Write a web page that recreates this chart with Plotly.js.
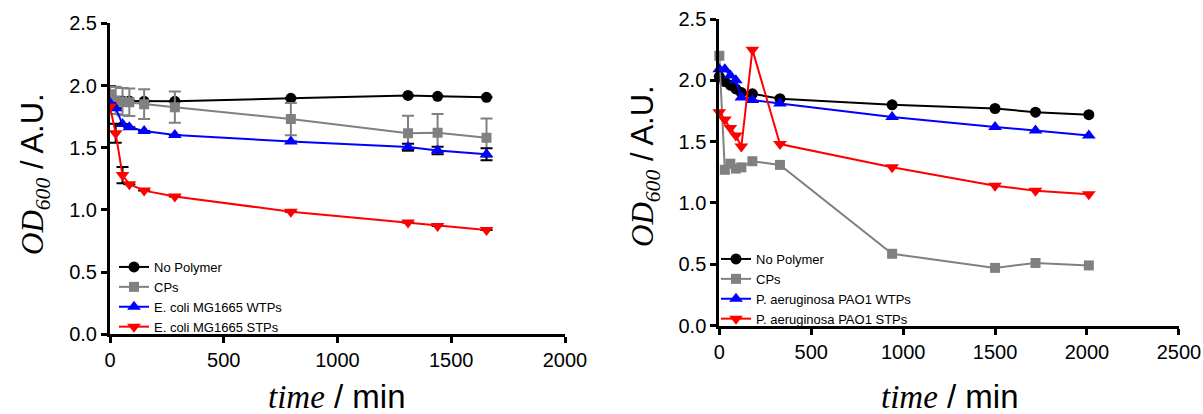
<!DOCTYPE html>
<html>
<head>
<meta charset="utf-8">
<script src="https://cdn.plot.ly/plotly-3.0.1.min.js"></script>
<style>html,body{margin:0;padding:0;background:#fff;}#chart{width:1203px;height:414px;}</style>
</head>
<body>
<div id="chart"></div>
<script>
// ---- Left panel: E. coli MG1665 ----
const leftTime = [0, 25, 55, 85, 150, 285, 795, 1310, 1440, 1655];
const leftNoPolymer = [1.905, 1.875, 1.875, 1.875, 1.873, 1.873, 1.897, 1.92, 1.913, 1.905];
const leftNoPolymerErr = [0.09, 0, 0, 0, 0, 0, 0, 0, 0, 0];
const leftCPs = [1.93, 1.88, 1.87, 1.865, 1.85, 1.826, 1.73, 1.616, 1.621, 1.58];
const leftCPsErr = [0.06, 0.11, 0.11, 0.11, 0.12, 0.125, 0.13, 0.14, 0.15, 0.155];
const leftWTPs = [1.86, 1.817, 1.69, 1.664, 1.634, 1.602, 1.549, 1.505, 1.477, 1.447];
const leftWTPsErr = [0, 0, 0, 0, 0, 0, 0, 0.027, 0.03, 0.048];
const leftSTPs = [1.83, 1.616, 1.28, 1.206, 1.155, 1.107, 0.986, 0.898, 0.871, 0.839];
const leftSTPsErr = [0, 0.077, 0.065, 0, 0, 0, 0, 0, 0, 0];
const leftNames = ["No Polymer", "CPs", "E. coli MG1665 WTPs", "E. coli MG1665 STPs"];

// ---- Right panel: P. aeruginosa PAO1 ----
const rightTime = [0, 30, 60, 90, 120, 180, 330, 940, 1500, 1720, 2010];
const rightNoPolymer = [2.03, 1.99, 1.96, 1.93, 1.90, 1.89, 1.85, 1.80, 1.77, 1.74, 1.72];
const rightCPs = [2.20, 1.27, 1.32, 1.28, 1.29, 1.34, 1.31, 0.585, 0.47, 0.51, 0.49];
const rightWTPs = [2.09, 2.09, 2.04, 2.00, 1.86, 1.84, 1.81, 1.70, 1.62, 1.59, 1.55];
const rightSTPs = [1.74, 1.68, 1.61, 1.55, 1.46, 2.25, 1.48, 1.29, 1.14, 1.10, 1.07];
const rightNames = ["No Polymer", "CPs", "P. aeruginosa PAO1 WTPs", "P. aeruginosa PAO1 STPs"];

const yTicks = [0, 0.5, 1.0, 1.5, 2.0, 2.5];
const leftXTicks = [0, 500, 1000, 1500, 2000];
const rightXTicks = [0, 500, 1000, 1500, 2000, 2500];

const colors = ["#000000", "#808080", "#0000ff", "#ff0000"];
const symbols = ["circle", "square", "triangle-up", "triangle-down"];
const sizes = [11, 10, 12, 12];

function mk(x, y, i, name, xa, ya, leg, err, errColor, clip) {
  const t = {
    x: x, y: y, name: name, type: "scatter", mode: "lines+markers",
    xaxis: xa, yaxis: ya, legend: leg, cliponaxis: clip,
    line: {color: colors[i], width: 2},
    marker: {color: colors[i], symbol: symbols[i], size: sizes[i], line: {width: 0}}
  };
  if (err) {
    t.error_y = {type: "data", array: err, visible: true, color: errColor, thickness: 2, width: 6};
  }
  return t;
}

const data = [
  mk(leftTime, leftNoPolymer, 0, leftNames[0], "x", "y", "legend", leftNoPolymerErr, "#000000", true),
  mk(leftTime, leftCPs, 1, leftNames[1], "x", "y", "legend", leftCPsErr, "#808080", true),
  mk(leftTime, leftWTPs, 2, leftNames[2], "x", "y", "legend", leftWTPsErr, "#000000", true),
  mk(leftTime, leftSTPs, 3, leftNames[3], "x", "y", "legend", leftSTPsErr, "#000000", true),
  mk(rightTime, rightNoPolymer, 0, rightNames[0], "x2", "y2", "legend2", null, null, false),
  mk(rightTime, rightCPs, 1, rightNames[1], "x2", "y2", "legend2", null, null, false),
  mk(rightTime, rightWTPs, 2, rightNames[2], "x2", "y2", "legend2", null, null, false),
  mk(rightTime, rightSTPs, 3, rightNames[3], "x2", "y2", "legend2", null, null, false)
];

const tickFont = {family: "Liberation Sans, Arial, sans-serif", size: 20, color: "#000"};
function xax(domain, range, ticks, anchor) {
  return {domain: domain, range: range, tickvals: ticks, ticktext: ticks.map(String),
    showgrid: false, zeroline: false, showline: true, linecolor: "#000", linewidth: 3,
    ticks: "outside", ticklen: 6, tickwidth: 3, tickcolor: "#000", tickfont: tickFont, anchor: anchor, fixedrange: true};
}
function yax(domain, anchor) {
  return {domain: domain, range: [0, 2.5], tickvals: yTicks, ticktext: yTicks.map(v => v.toFixed(1)),
    showgrid: false, zeroline: false, showline: true, linecolor: "#000", linewidth: 3,
    ticks: "outside", ticklen: 6, tickwidth: 3, tickcolor: "#000", tickfont: tickFont, anchor: anchor, fixedrange: true};
}

const W = 1203, H = 414;
const serif = "font-family:'Liberation Serif','Times New Roman',serif";
const yTitle = "<i><span style=\"" + serif + "\">OD</span></i><sub><i><span style=\"" + serif + "\">600</span></i></sub> / A.U.";
const xTitle = "<i><span style=\"" + serif + "\">time</span></i> / min";
const titleFont = {family: "Liberation Sans, Arial, sans-serif", size: 31, color: "#000"};
const xTitleFont = {family: "Liberation Sans, Arial, sans-serif", size: 33, color: "#000"};

const legendFont = {family: "Liberation Sans, Arial, sans-serif", size: 13, color: "#000"};
const layout = {
  width: W, height: H,
  margin: {l: 0, r: 0, t: 0, b: 0},
  paper_bgcolor: "#fff", plot_bgcolor: "rgba(0,0,0,0)",
  showlegend: true,
  xaxis: xax([110 / W, 565 / W], [0, 2000], leftXTicks, "y"),
  yaxis: yax([(H - 334.3) / H, (H - 23.3) / H], "x"),
  xaxis2: xax([719.3 / W, 1178.9 / W], [0, 2500], rightXTicks, "y2"),
  yaxis2: yax([(H - 325.5) / H, (H - 19) / H], "x2"),
  legend: {x: 114 / W, y: (H - 252) / H, xanchor: "left", yanchor: "top", bgcolor: "rgba(0,0,0,0)",
    font: legendFont, tracegroupgap: 0, itemwidth: 30, traceorder: "normal"},
  legend2: {x: 716 / W, y: (H - 244) / H, xanchor: "left", yanchor: "top", bgcolor: "rgba(0,0,0,0)",
    font: legendFont, tracegroupgap: 0, itemwidth: 30, traceorder: "normal"},
  annotations: [
    {text: yTitle, textangle: -90, x: 35 / W, y: (H - 174) / H, xref: "paper", yref: "paper",
     xanchor: "center", yanchor: "middle", showarrow: false, font: titleFont},
    {text: yTitle, textangle: -90, x: 645 / W, y: (H - 166) / H, xref: "paper", yref: "paper",
     xanchor: "center", yanchor: "middle", showarrow: false, font: titleFont},
    {text: xTitle, x: 337 / W, y: (H - 396) / H, xref: "paper", yref: "paper",
     xanchor: "center", yanchor: "middle", showarrow: false, font: xTitleFont},
    {text: xTitle, x: 950 / W, y: (H - 396) / H, xref: "paper", yref: "paper",
     xanchor: "center", yanchor: "middle", showarrow: false, font: xTitleFont}
  ]
};

Plotly.newPlot("chart", data, layout, {staticPlot: true, displayModeBar: false});
</script>
</body>
</html>
